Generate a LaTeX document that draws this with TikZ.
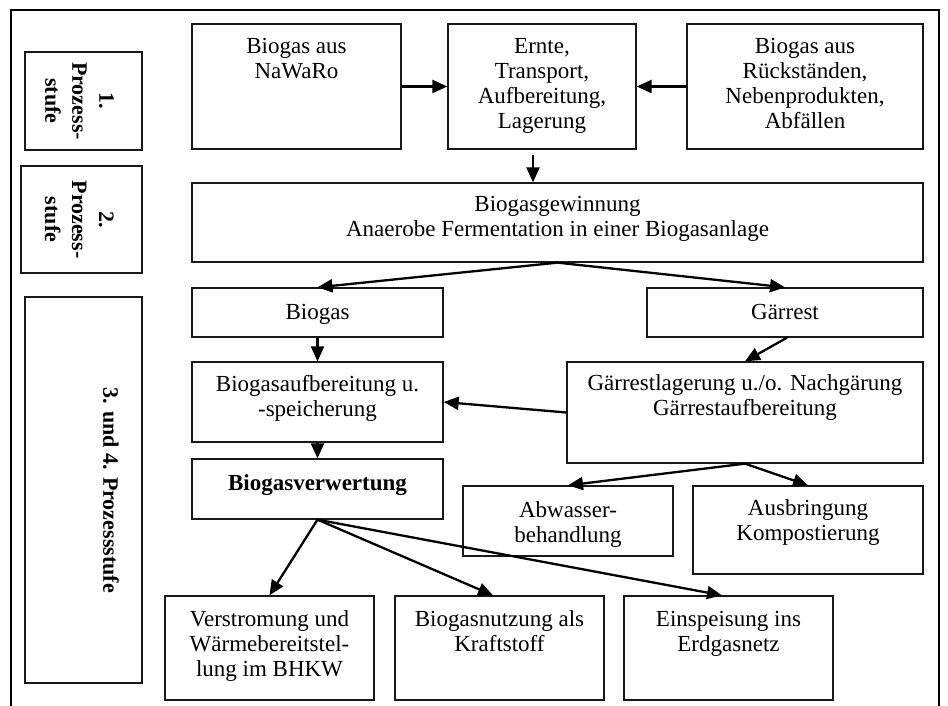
\documentclass[tikz,border=0pt]{standalone}
\usepackage{fontspec}
\setmainfont{Liberation Serif}
\usetikzlibrary{arrows.meta}
\begin{document}
\begin{tikzpicture}[x=1pt,y=-1pt,
  box/.style={draw=black!90, line width=1.3pt, rectangle, inner sep=0pt},
  txt/.style={inner sep=0pt, align=center, font=\fontsize{23}{25}\selectfont},
  vtxt/.style={inner sep=0pt, align=center, rotate=-90, anchor=north, font=\fontsize{22}{27}\selectfont\bfseries},
  arr/.style={line width=2.3pt, -{Triangle[length=15pt,width=13pt]}},
  frame/.style={line width=2.2pt}]
\useasboundingbox (0,0) rectangle (948,706);
% outer frame (open at bottom)
\coordinate (fbl) at (11,706);
\coordinate (ftl) at (11,10);
\coordinate (ftr) at (939,10);
\coordinate (fbr) at (939,706);
\draw[frame] (fbl) -- (ftl) -- (ftr) -- (fbr);

% stage boxes
\node[box, minimum width=117, minimum height=98] (p1) at (83.5,101) {};
\node[box, minimum width=121, minimum height=107] (p2) at (81.5,219.5) {};
\node[box, minimum width=117, minimum height=386] (p3) at (83.5,490) {};
\node[vtxt] (p1t) at (114,101) {1.\\Prozess-\\stufe};
\node[vtxt] (p2t) at (114,219.5) {2.\\Prozess-\\stufe};
\node[vtxt] (p3t) at (119,490) {3. und 4. Prozessstufe};

% boxes
\node[box, minimum width=209, minimum height=125] (nawaro) at (296.5,86.5) {};
\node[box, minimum width=188, minimum height=125] (ernte) at (542,86.5) {};
\node[box, minimum width=236, minimum height=125] (rueck) at (805,86.5) {};
\node[box, minimum width=731, minimum height=79] (gew) at (557.5,222.5) {};
\node[box, minimum width=251, minimum height=49] (biogas) at (317.5,312.5) {};
\node[box, minimum width=276, minimum height=49] (gaerrest) at (785,312.5) {};
\node[box, minimum width=251, minimum height=80] (aufb) at (317.5,402) {};
\node[box, minimum width=356, minimum height=101] (lager) at (745,412.5) {};
\node[box, minimum width=251, minimum height=60] (verw) at (317.5,489) {};
\node[box, minimum width=210, minimum height=70] (abw) at (568,521) {};
\node[box, minimum width=230, minimum height=88] (ausb) at (808,530) {};
\node[box, minimum width=209, minimum height=104] (verstr) at (269.5,648) {};
\node[box, minimum width=209, minimum height=104] (kraft) at (499.5,648) {};
\node[box, minimum width=209, minimum height=104] (einsp) at (728.5,648) {};

% texts
\node[txt, anchor=north] (nawarot) at (296.5,38) {Biogas aus\\NaWaRo};
\node[txt, anchor=north] (erntet) at (542,38.5) {Ernte,\\Transport,\\Aufbereitung,\\Lagerung};
\node[txt, anchor=north] (ruekt) at (805,38.5) {Biogas aus\\Rückständen,\\Nebenprodukten,\\Abfällen};
\node[txt, anchor=north] (gewt) at (557.5,196) {Biogasgewinnung\\Anaerobe Fermentation in einer Biogasanlage};
\node[txt, anchor=base] (biogast) at (317.5,319) {Biogas};
\node[txt, anchor=base] (gaerrestt) at (785,319) {Gärrest};
\node[txt, anchor=north] (aufbt) at (317.5,375) {Biogasaufbereitung u.\\-speicherung};
\node[txt, anchor=north] (lagert) at (745,374) {Gärrestlagerung u./o. Nachgärung\\Gärrestaufbereitung};
\node[txt, anchor=base, font=\fontsize{23}{25}\selectfont\bfseries] (verwt) at (317.5,490) {Biogasverwertung};
\node[txt, anchor=north] (abwt) at (568,501.5) {Abwasser-\\behandlung};
\node[txt, anchor=north] (ausbt) at (808,499.5) {Ausbringung\\Kompostierung};
\node[txt, anchor=north] (verstrt) at (269.5,610) {Verstromung und\\Wärmebereitstel-\\lung im BHKW};
\node[txt, anchor=north] (kraftt) at (499.5,610) {Biogasnutzung als\\Kraftstoff};
\node[txt, anchor=north] (einspt) at (728.5,611) {Einspeisung ins\\Erdgasnetz};

% arrows
\draw[arr] (nawaro.east) -- (ernte.west);
\draw[arr] (rueck.west) -- (ernte.east);
\draw[arr] ([xshift=-9pt,yshift=-5pt]ernte.south) -- ([xshift=-24.5pt]gew.north);
\draw[arr] (gew.south) -- (biogas.north);
\draw[arr] (gew.south) -- (gaerrest.north);
\draw[arr] (biogas.south) -- (aufb.north);
\draw[arr] ([xshift=2pt]gaerrest.south) -- (lager.north);
\draw[arr] (lager.west) -- (aufb.east);
\draw[arr] (aufb.south) -- (verw.north);
\draw[arr] (lager.south) -- (abw.north);
\draw[arr] (lager.south) -- (ausb.north);
\draw[arr] (verw.south) -- (verstr.north);
\draw[arr] (verw.south) -- ([xshift=-6.5pt]kraft.north);
\draw[arr] (verw.south) -- ([xshift=-6.5pt]einsp.north);
\end{tikzpicture}
\end{document}
